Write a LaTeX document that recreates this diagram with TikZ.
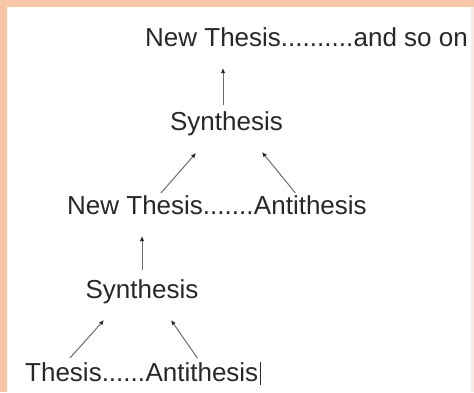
\documentclass[tikz,border=0pt]{standalone}
\usepackage{fontspec}
\setmainfont{Liberation Sans}
\usetikzlibrary{arrows.meta, positioning, calc}

\definecolor{peach}{RGB}{245,199,168}
\definecolor{inkgray}{RGB}{40,40,40}
\definecolor{linegray}{RGB}{110,110,110}

\begin{document}
\begin{tikzpicture}[
    x=1pt, y=-1pt,
    word/.style={inner sep=0pt, text=inkgray, font=\fontsize{26pt}{30pt}\selectfont},
    arrow/.style={-{Latex[length=5pt, width=4.5pt, color=inkgray]}, draw=linegray, line width=1pt},
    caret/.style={draw=inkgray, line width=0.8pt}
]
\useasboundingbox (0,0) rectangle (474,392);

% Fondo
\fill[peach] (0,0) rectangle (474,392);
\fill[peach!35] (471,7) rectangle (474,392);
\fill[white] (7,7) rectangle (471,392);

% Nodes
\node (thesis) [word, anchor=base west] at (25,381) {Thesis......};
\node (antiA) [word, right=0pt of thesis.base east, anchor=base west] {Antithesis};
\node (synthA) [word, anchor=base] at (142,298) {Synthesis};
\node (newthA) [word, anchor=base west] at (67,214) {New Thesis.......};
\node (antiB) [word, right=0pt of newthA.base east, anchor=base west] {Antithesis};
\node (synthB) [word, anchor=base] at (226.5,130) {Synthesis};
\node (newthB) [word, anchor=base west] at (145,46) {New Thesis..........};
\node (soon) [word, right=0pt of newthB.base east, anchor=base west] {and so on};

% Arrows
\draw [arrow] ($(thesis.base west)+(45,-23)$) -- ($(synthA.base)+(-38,22)$);
\draw [arrow] ($(antiA.base west)+(52,-23)$) -- ($(synthA.base)+(29,22)$);
\draw [arrow] ($(synthA.base)+(0,-28)$) -- ($(synthA.base |- newthA.base)+(0,22)$);
\draw [arrow] ($(newthA.base west)+(94,-21)$) -- ($(synthB.base)+(-30.5,23)$);
\draw [arrow] ($(antiB.base west)+(41.6,-21)$) -- ($(synthB.base)+(35.5,22)$);
\draw [arrow] ($(synthB.base)+(-3.5,-25)$) -- ($(synthB.base |- newthB.base)+(-3.5,22)$);

% Cursor
\draw [caret] ($(antiA.base east)+(1.5,-19)$) -- ($(antiA.base east)+(1.5,4)$);

\end{tikzpicture}
\end{document}
